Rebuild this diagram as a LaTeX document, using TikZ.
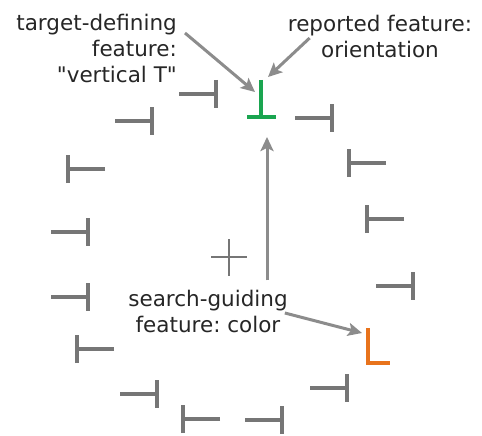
\documentclass[tikz,border=0pt]{standalone}
\usepackage{fontspec}
\setmainfont{DejaVu Sans}
\usetikzlibrary{arrows.meta}
\definecolor{teegray}{HTML}{767676}
\definecolor{arrowgray}{HTML}{8C8C8C}
\definecolor{targetgreen}{HTML}{1AA550}
\definecolor{targetorange}{HTML}{E8731C}
\frenchspacing
\tikzset{
  teebar/.style={line width=4pt},
  pointer/.style={line width=3pt, arrowgray, -{Stealth[length=14pt,width=13pt,inset=3pt]}},
  note/.style={font=\fontsize{21.5}{26}\selectfont, text=black!85, inner sep=0pt},
  tee/.pic={\draw[teebar, teegray] (-37,0) -- (0,0) (0,-14) -- (0,14);}
}

\begin{document}
\begin{tikzpicture}[x=1pt,y=-1pt]
    \useasboundingbox (0,0) rectangle (482,436);

    % distractors
    \foreach \p in {(216,94),(152,121),(332,118),(88,232),(413,286),(88,297),(157,394),(282,420),(347,388)}
        \pic at \p {tee};
    \foreach \p in {(68,169),(349,163),(367,219),(77,349),(183,419)}
        \pic[rotate=180] at \p {tee};

    % targets and fixation cross
    \draw[teebar, targetgreen] (261,80) -- (261,117) (247,117) -- (276,117);
    \draw[teebar, targetorange] (368,328) -- (368,363) -- (390,363);
    \draw[line width=2pt, teegray] (211,257) -- (247,257) (229,239) -- (229,276);

    \coordinate (tdef-tip) at (255,92);
    \coordinate (rep-tip) at (268,77);
    \coordinate (up-tip) at (267,137);
    \coordinate (col-tip) at (362,333);

    \node[note, align=right, anchor=east] (tdef) at (177,48) {target-defining\\feature:\\\textquotedbl vertical T\textquotedbl};
    \node[note, align=center] (rep) at (380,36) {reported feature:\\orientation};
    \node[note, align=center] (search) at (208,311) {search-guiding\\feature: color};

    \draw[pointer] ([xshift=8pt,yshift=15pt]tdef.east) -- (tdef-tip);
    \draw[pointer] ([xshift=22pt,yshift=-2pt]rep.west) -- (rep-tip);
    \draw[pointer] ([xshift=59pt,yshift=9pt]search.north) -- (up-tip);
    \draw[pointer] ([xshift=-3pt,yshift=-2pt]search.east) -- (col-tip);
\end{tikzpicture}
\end{document}
